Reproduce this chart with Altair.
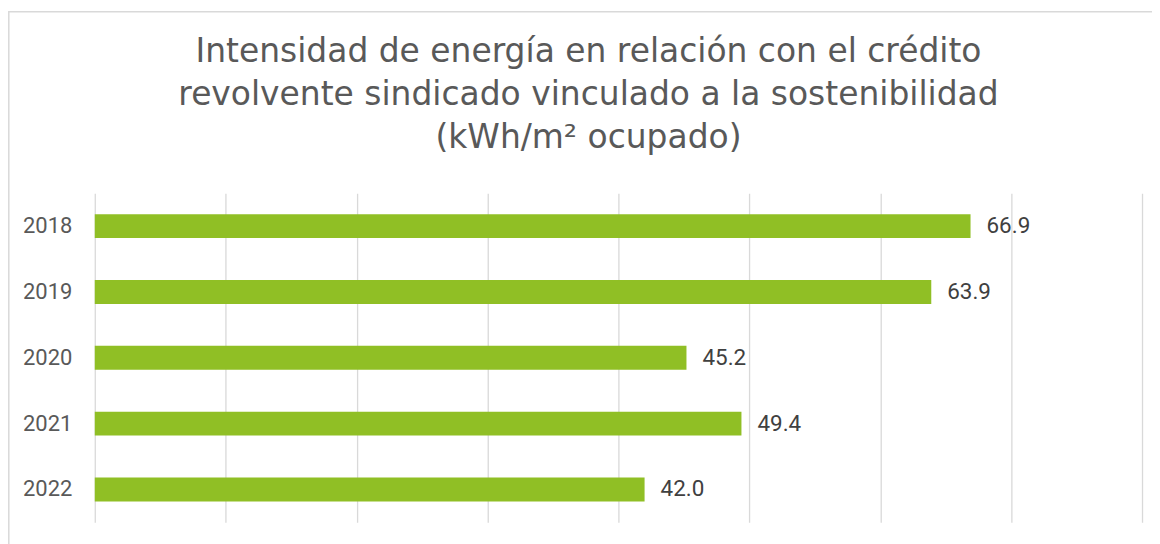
import altair as alt
import pandas as pd

years = ["2018", "2019", "2020", "2021", "2022"]
values = [66.9, 63.9, 45.2, 49.4, 42.0]

df = pd.DataFrame({"year": years, "value": values})

FONT = "Roboto"
TITLE_FONT = "DejaVu Sans"

base = alt.Chart(df).encode(
    y=alt.Y("year:N", sort=years,
            scale=alt.Scale(paddingInner=0, paddingOuter=0),
            axis=alt.Axis(title=None, domain=False, ticks=False, grid=False,
                          labelFont=FONT, labelFontSize=22, labelColor="#595959",
                          labelPadding=23)),
)

bars = base.mark_bar(color="#90BF25", size=24).encode(
    x=alt.X("value:Q", scale=alt.Scale(domain=[0, 80], nice=False),
            axis=alt.Axis(title=None, labels=False, domain=False, ticks=False,
                          values=[0, 10, 20, 30, 40, 50, 60, 70, 80],
                          grid=True, gridColor="#d9d9d9", gridWidth=1.3)),
)

labels = base.mark_text(align="left", baseline="middle", dx=16, font=FONT,
                        fontSize=22.5, color="#404040").encode(
    x="value:Q",
    text=alt.Text("value:Q", format=".1f"),
)

frame = alt.Chart(df.head(1)).mark_rect(fill="transparent", stroke="#d9d9d9",
                                         strokeWidth=1.5).encode(
    x=alt.value(-86.2), x2=alt.value(1200), y=alt.value(-182), y2=alt.value(500))

chart = alt.layer(frame, bars, labels).properties(
    width=1050,
    height=330,
    background="white",
    title=alt.TitleParams(
        text=["Intensidad de energía en relación con el crédito",
              "revolvente sindicado vinculado a la sostenibilidad",
              "(kWh/m² ocupado)"],
        font=TITLE_FONT, fontSize=33, fontWeight="normal", color="#595959",
        lineHeight=43, anchor="middle", frame="group", dx=-30, offset=-144,
    ),
    autosize=alt.AutoSizeParams(type="none"),
    padding={"left": 87, "top": 185, "right": 10, "bottom": 30},
).configure_view(stroke="transparent", strokeWidth=0)

chart.save("out.html", embed_options={"renderer": "svg", "actions": False})
